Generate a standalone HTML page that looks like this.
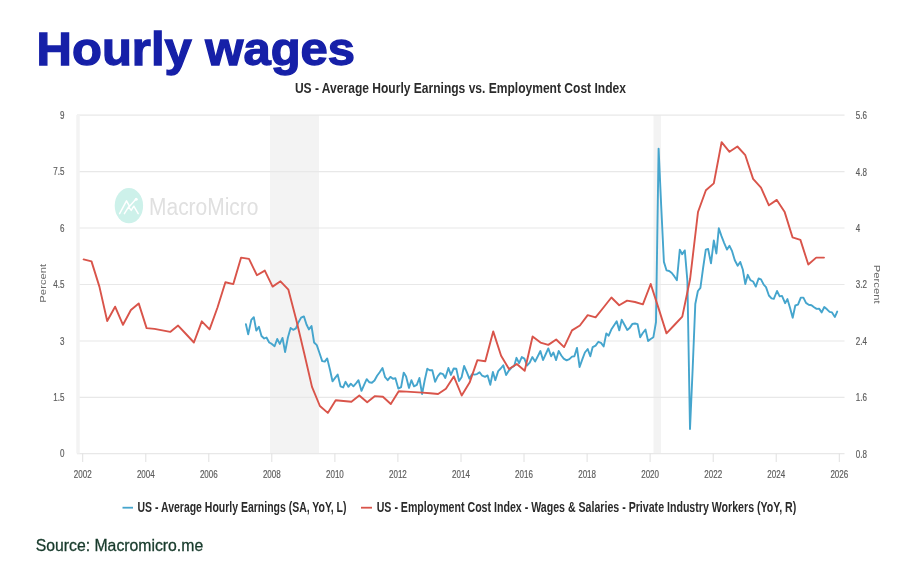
<!DOCTYPE html>
<html><head><meta charset="utf-8"><title>Hourly wages</title>
<style>
html,body{margin:0;padding:0;background:#ffffff;}
body{width:918px;height:572px;position:relative;overflow:hidden;font-family:"Liberation Sans",sans-serif;}
text{font-family:"Liberation Sans",sans-serif;}
.ax{font-size:11px;fill:#5c5c5c;stroke:#5c5c5c;stroke-width:0.2px;}
.pc{font-size:11.3px;fill:#6a6a6a;}
.ct{font-size:14px;font-weight:bold;fill:#2b2b2b;}
.ttl{font-size:47px;font-weight:bold;fill:#1620a8;stroke:#1620a8;stroke-width:1.3px;stroke-linejoin:miter;}
.src{font-size:16.5px;fill:#173a2b;stroke:#173a2b;stroke-width:0.3px;}
</style></head><body>
<svg width="918" height="572" viewBox="0 0 918 572" style="position:absolute;left:0;top:0;will-change:transform">
<rect x="270" y="115.1" width="49" height="338.5" fill="#f3f3f3"/>
<rect x="653.5" y="115.1" width="7.5" height="338.5" fill="#f3f3f3"/>
<line x1="77" y1="115.1" x2="844.5" y2="115.1" stroke="#e8e8e8" stroke-width="1.2"/>
<line x1="77" y1="171.6" x2="844.5" y2="171.6" stroke="#e8e8e8" stroke-width="1.2"/>
<line x1="77" y1="228.0" x2="844.5" y2="228.0" stroke="#e8e8e8" stroke-width="1.2"/>
<line x1="77" y1="284.5" x2="844.5" y2="284.5" stroke="#e8e8e8" stroke-width="1.2"/>
<line x1="77" y1="341.0" x2="844.5" y2="341.0" stroke="#e8e8e8" stroke-width="1.2"/>
<line x1="77" y1="397.3" x2="844.5" y2="397.3" stroke="#e8e8e8" stroke-width="1.2"/>
<line x1="77" y1="453.6" x2="844.5" y2="453.6" stroke="#e8e8e8" stroke-width="1.2"/>
<line x1="78" y1="115.1" x2="78" y2="453.6" stroke="#f3f3f3" stroke-width="3.5"/>
<line x1="82.7" y1="453.6" x2="82.7" y2="462" stroke="#e0e0e0" stroke-width="1"/>
<line x1="145.8" y1="453.6" x2="145.8" y2="462" stroke="#e0e0e0" stroke-width="1"/>
<line x1="208.8" y1="453.6" x2="208.8" y2="462" stroke="#e0e0e0" stroke-width="1"/>
<line x1="271.8" y1="453.6" x2="271.8" y2="462" stroke="#e0e0e0" stroke-width="1"/>
<line x1="334.9" y1="453.6" x2="334.9" y2="462" stroke="#e0e0e0" stroke-width="1"/>
<line x1="397.9" y1="453.6" x2="397.9" y2="462" stroke="#e0e0e0" stroke-width="1"/>
<line x1="461.0" y1="453.6" x2="461.0" y2="462" stroke="#e0e0e0" stroke-width="1"/>
<line x1="524.0" y1="453.6" x2="524.0" y2="462" stroke="#e0e0e0" stroke-width="1"/>
<line x1="587.1" y1="453.6" x2="587.1" y2="462" stroke="#e0e0e0" stroke-width="1"/>
<line x1="650.1" y1="453.6" x2="650.1" y2="462" stroke="#e0e0e0" stroke-width="1"/>
<line x1="713.2" y1="453.6" x2="713.2" y2="462" stroke="#e0e0e0" stroke-width="1"/>
<line x1="776.2" y1="453.6" x2="776.2" y2="462" stroke="#e0e0e0" stroke-width="1"/>
<line x1="839.3" y1="453.6" x2="839.3" y2="462" stroke="#e0e0e0" stroke-width="1"/>
<g><ellipse cx="128.9" cy="205.7" rx="14.2" ry="17.6" fill="#cdf1ea"/><polyline points="119.6,213.6 126.5,200.8 129.6,206.3 135.4,199.8" fill="none" stroke="#ffffff" stroke-width="1.5" stroke-linejoin="round" stroke-linecap="round"/><polyline points="124.4,213.6 128.6,206.9 131.2,210.4 133.8,206.2 138.2,213.6" fill="none" stroke="#ffffff" stroke-width="1.5" stroke-linejoin="round" stroke-linecap="round"/><circle cx="136.2" cy="199.2" r="1.5" fill="#ffffff"/><text id="wm" x="149" y="214.9" font-family="Liberation Sans, sans-serif" font-size="23.5" fill="#e0e0e0" textLength="109.5" lengthAdjust="spacingAndGlyphs">MacroMicro</text></g>
<polyline points="245.9,324.2 248.2,334.4 251.3,319.9 253.8,317.2 256.3,330.6 258.9,326.8 261.5,336.0 264.2,338.5 266.5,337.5 269.2,342.5 271.8,343.9 274.6,346.2 277.2,339.0 279.8,343.9 282.5,337.9 285.1,352.0 287.9,337.5 290.6,328.0 293.2,329.8 295.9,328.3 298.5,322.2 301.1,317.6 303.9,316.4 306.5,324.5 308.9,329.4 311.5,326.0 314.1,342.5 316.8,345.1 319.4,352.7 322.2,361.1 324.8,361.6 327.2,358.4 330.1,370.3 332.5,381.3 335.1,377.9 337.7,374.6 340.5,386.3 343.2,387.4 345.5,381.8 348.4,386.8 350.8,383.7 353.4,386.3 356.0,383.3 358.5,380.2 361.5,390.9 364.1,384.8 366.7,379.2 369.4,382.3 371.9,382.8 374.5,380.5 377.1,375.7 379.7,372.2 382.5,368.0 385.1,377.2 387.7,380.2 390.4,376.9 393.0,378.7 395.4,378.3 398.3,388.6 401.1,387.1 403.7,372.6 406.1,376.4 409.0,387.9 411.4,380.2 414.0,386.3 416.8,384.8 419.4,378.0 422.1,394.0 424.7,380.2 427.3,368.8 429.7,370.3 432.3,370.3 435.1,381.8 437.7,376.4 440.3,373.1 443.0,374.1 445.3,378.0 448.4,368.0 450.9,374.9 453.7,368.5 456.3,368.8 459.0,381.0 461.6,377.2 464.1,366.0 466.7,371.9 469.4,378.7 472.0,374.1 474.6,374.6 477.0,374.1 479.6,372.2 482.2,375.7 485.0,376.9 487.6,375.4 490.3,384.8 492.9,371.9 495.3,380.2 498.2,371.1 500.7,368.5 503.3,365.3 506.1,375.1 508.7,370.8 511.4,367.8 514.2,365.9 516.5,357.8 519.1,363.2 521.8,357.1 524.4,358.6 527.0,365.5 529.7,362.7 532.3,357.1 535.1,361.6 537.8,356.3 540.4,351.0 543.0,360.1 545.8,354.0 548.3,348.4 551.1,356.3 553.4,352.5 556.1,360.1 558.7,351.0 561.3,355.5 563.7,358.6 566.6,360.4 569.4,359.1 572.0,356.6 574.4,356.3 577.0,347.9 579.6,367.0 582.4,359.1 584.9,352.5 587.7,349.0 590.3,356.3 592.7,347.1 595.6,345.6 598.4,341.8 601.0,342.9 603.7,346.4 606.3,333.4 608.7,335.7 611.3,329.6 614.1,325.3 616.7,321.2 619.3,330.4 621.7,319.7 624.6,325.0 627.3,330.0 629.6,328.1 632.4,323.9 635.0,323.5 637.6,324.2 640.2,337.2 642.8,333.0 645.5,329.6 648.1,341.0 650.7,339.0 653.4,337.2 656.0,322.0 658.6,148.6 661.2,206.0 663.9,261.9 666.5,270.3 669.2,271.0 671.8,273.0 674.4,276.4 676.9,280.2 679.8,249.6 682.2,254.2 684.8,250.4 687.4,281.0 690.0,429.0 692.7,368.0 695.3,304.0 697.9,291.0 700.4,287.8 703.1,268.0 705.8,249.6 708.1,248.9 711.0,263.4 713.8,240.5 716.4,253.5 718.8,228.3 721.4,235.9 724.1,242.8 727.0,249.6 729.5,245.8 732.1,251.2 734.8,260.3 737.7,265.7 740.2,261.9 742.8,269.5 745.3,284.0 747.8,274.8 750.4,280.2 753.1,281.5 755.8,286.6 758.6,278.5 761.0,279.3 763.7,284.7 766.0,287.1 768.9,295.5 771.5,298.4 773.8,298.8 777.0,291.0 779.7,296.4 782.0,295.9 785.1,303.2 787.4,299.1 790.0,307.8 792.7,317.7 795.3,305.5 798.0,304.7 800.8,297.6 803.4,297.6 806.0,302.9 808.7,304.7 811.5,305.2 814.1,307.3 816.6,308.9 819.1,308.6 821.7,312.4 824.3,307.0 827.0,309.3 829.6,311.9 832.0,312.4 834.9,317.0 837.2,311.6" fill="none" stroke="#45a5cd" stroke-width="1.9" stroke-linejoin="round" stroke-linecap="round"/>
<polyline points="83.6,259.4 91.5,261.4 99.4,286.6 107.2,321.0 115.1,306.7 123.0,324.8 130.9,310.0 138.7,303.4 146.6,328.1 154.5,328.9 162.4,330.4 170.2,331.9 178.1,325.6 186.0,334.0 193.9,342.5 201.8,321.3 209.6,329.4 217.5,307.5 225.4,282.3 233.3,284.1 241.1,257.6 249.0,258.9 256.9,275.2 264.8,270.6 272.6,286.6 280.5,281.3 288.4,289.7 296.3,320.0 304.2,353.3 312.0,386.9 319.9,406.0 327.8,412.9 335.7,400.2 343.5,401.0 351.4,401.7 359.3,395.6 367.2,402.2 375.0,396.1 382.9,396.8 390.8,404.0 398.7,391.2 406.6,391.6 414.4,392.1 422.3,392.6 430.2,393.2 438.1,394.0 445.9,388.7 453.8,376.4 461.7,395.5 469.6,382.6 477.4,360.1 485.3,361.2 493.2,331.4 501.1,355.8 509.0,369.0 516.8,364.0 524.7,370.8 532.6,336.5 540.5,342.6 548.3,344.9 556.2,339.5 564.1,347.1 572.0,330.4 579.9,325.5 587.7,315.1 595.6,317.4 603.5,307.5 611.4,297.5 619.2,305.2 627.1,300.6 635.0,302.0 642.9,304.4 650.7,284.0 658.6,308.4 666.5,333.4 674.4,325.0 682.3,316.6 690.1,279.0 698.0,212.0 705.9,190.3 713.8,183.4 721.6,142.2 729.5,151.8 737.4,146.5 745.3,155.2 753.1,178.9 761.0,187.6 768.9,205.3 776.8,199.9 784.7,212.1 792.5,237.3 800.4,239.9 808.3,264.5 816.2,257.6 824.0,257.6" fill="none" stroke="#d9544a" stroke-width="1.9" stroke-linejoin="round" stroke-linecap="round"/>
<text transform="translate(64.4,118.8) scale(0.73,1)" text-anchor="end" class="ax">9</text>
<text transform="translate(64.4,175.3) scale(0.73,1)" text-anchor="end" class="ax">7.5</text>
<text transform="translate(64.4,231.7) scale(0.73,1)" text-anchor="end" class="ax">6</text>
<text transform="translate(64.4,288.2) scale(0.73,1)" text-anchor="end" class="ax">4.5</text>
<text transform="translate(64.4,344.7) scale(0.73,1)" text-anchor="end" class="ax">3</text>
<text transform="translate(64.4,401.0) scale(0.73,1)" text-anchor="end" class="ax">1.5</text>
<text transform="translate(64.4,457.3) scale(0.73,1)" text-anchor="end" class="ax">0</text>
<text transform="translate(855.8,119.0) scale(0.73,1)" text-anchor="start" class="ax">5.6</text>
<text transform="translate(855.8,175.5) scale(0.73,1)" text-anchor="start" class="ax">4.8</text>
<text transform="translate(855.8,231.9) scale(0.73,1)" text-anchor="start" class="ax">4</text>
<text transform="translate(855.8,288.4) scale(0.73,1)" text-anchor="start" class="ax">3.2</text>
<text transform="translate(855.8,344.9) scale(0.73,1)" text-anchor="start" class="ax">2.4</text>
<text transform="translate(855.8,401.2) scale(0.73,1)" text-anchor="start" class="ax">1.6</text>
<text transform="translate(855.8,457.5) scale(0.73,1)" text-anchor="start" class="ax">0.8</text>
<text transform="translate(82.7,477.7) scale(0.73,1)" text-anchor="middle" class="ax">2002</text>
<text transform="translate(145.8,477.7) scale(0.73,1)" text-anchor="middle" class="ax">2004</text>
<text transform="translate(208.8,477.7) scale(0.73,1)" text-anchor="middle" class="ax">2006</text>
<text transform="translate(271.8,477.7) scale(0.73,1)" text-anchor="middle" class="ax">2008</text>
<text transform="translate(334.9,477.7) scale(0.73,1)" text-anchor="middle" class="ax">2010</text>
<text transform="translate(397.9,477.7) scale(0.73,1)" text-anchor="middle" class="ax">2012</text>
<text transform="translate(461.0,477.7) scale(0.73,1)" text-anchor="middle" class="ax">2014</text>
<text transform="translate(524.0,477.7) scale(0.73,1)" text-anchor="middle" class="ax">2016</text>
<text transform="translate(587.1,477.7) scale(0.73,1)" text-anchor="middle" class="ax">2018</text>
<text transform="translate(650.1,477.7) scale(0.73,1)" text-anchor="middle" class="ax">2020</text>
<text transform="translate(713.2,477.7) scale(0.73,1)" text-anchor="middle" class="ax">2022</text>
<text transform="translate(776.2,477.7) scale(0.73,1)" text-anchor="middle" class="ax">2024</text>
<text transform="translate(839.3,477.7) scale(0.73,1)" text-anchor="middle" class="ax">2026</text>
<text transform="translate(46.2,283.2) rotate(-90) scale(1,0.82)" text-anchor="middle" class="pc">Percent</text>
<text transform="translate(873.8,284.2) rotate(90) scale(1,0.82)" text-anchor="middle" class="pc">Percent</text>
<text x="294.9" y="93" class="ct" textLength="331" lengthAdjust="spacingAndGlyphs">US - Average Hourly Earnings vs. Employment Cost Index</text>
<line x1="122.5" y1="507.7" x2="133" y2="507.7" stroke="#45a5cd" stroke-width="1.8"/>
<text x="137.5" y="512.2" class="ct" textLength="209" lengthAdjust="spacingAndGlyphs">US - Average Hourly Earnings (SA, YoY, L)</text>
<line x1="361" y1="507.7" x2="372" y2="507.7" stroke="#d9544a" stroke-width="1.8"/>
<text x="376.7" y="512.2" class="ct" textLength="419.6" lengthAdjust="spacingAndGlyphs">US - Employment Cost Index - Wages &amp; Salaries - Private Industry Workers (YoY, R)</text>
<text x="36.6" y="65.2" class="ttl" textLength="318.5" lengthAdjust="spacingAndGlyphs">Hourly wages</text>
<text x="35.7" y="551" class="src" textLength="167.5" lengthAdjust="spacingAndGlyphs">Source: Macromicro.me</text>
</svg>
</body></html>
